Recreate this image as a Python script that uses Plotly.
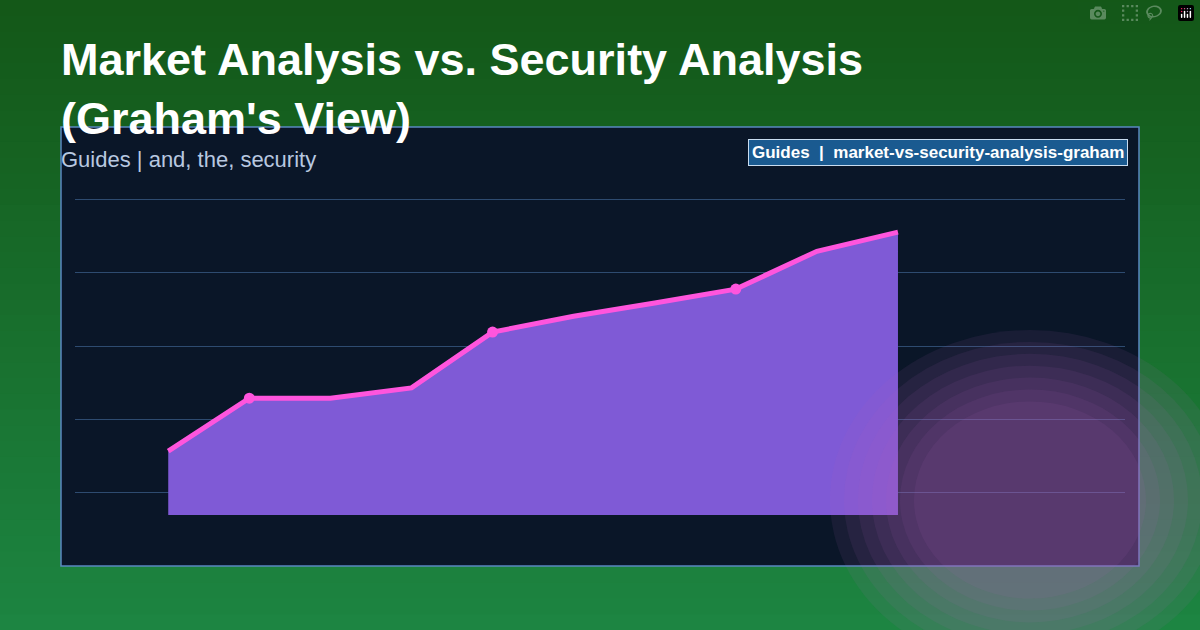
import plotly.graph_objects as go

steps = list(range(10))
values = [17.4, 31.8, 31.8, 34.6, 49.8, 54.1, 57.7, 61.5, 71.8, 77.0]
marker_steps = [1, 4, 7]
marker_values = [values[i] for i in marker_steps]

title = "Market Analysis vs. Security Analysis<br>(Graham's View)"
subtitle = "Guides | and, the, security"
badge = "Guides  |  market-vs-security-analysis-graham"

W, H = 1200, 630
L, R, T, B = 75, 75, 180, 90
pw, ph = W - L - R, H - T - B


def px(x):
    return (x - L) / pw


def py(y):
    return (H - B - y) / ph


shapes = []
# green background gradient
n = 40
for i in range(n):
    f = i / (n - 1)
    r = int(0x14 + (0x1d - 0x14) * f)
    g = int(0x58 + (0x85 - 0x58) * f)
    b = int(0x18 + (0x42 - 0x18) * f)
    shapes.append(dict(type="rect", xref="paper", yref="paper", layer="below",
                       x0=px(0), x1=px(W), y0=py(H * i / n), y1=py(H * (i + 1) / n + 1),
                       fillcolor=f"rgb({r},{g},{b})", line_width=0))
# panel
shapes.append(dict(type="rect", xref="paper", yref="paper", layer="below",
                   x0=px(61), x1=px(1139), y0=py(566), y1=py(127),
                   fillcolor="#0a1628", line=dict(color="#5a88c0", width=1.5)))
# glow
for k in range(7):
    rad = 200 - k * 14
    shapes.append(dict(type="circle", xref="paper", yref="paper", layer="above",
                       x0=px(1030 - rad * 1.0), x1=px(1030 + rad * 1.0),
                       y0=py(500 + rad * 0.85), y1=py(500 - rad * 0.85),
                       fillcolor="rgba(180,100,190,0.09)", line_width=0))

fig = go.Figure()
fig.add_trace(go.Scatter(x=steps, y=values, mode="lines", fill="tozeroy",
                         fillcolor="#7f5ad6", line=dict(color="#ff55dd", width=5),
                         hoverinfo="skip"))
fig.add_trace(go.Scatter(x=marker_steps, y=marker_values, mode="markers",
                         marker=dict(color="#ff55dd", size=11), hoverinfo="skip"))

fig.update_layout(
    width=W, height=H, showlegend=False,
    margin=dict(l=L, r=R, t=T, b=B),
    paper_bgcolor="#14581a", plot_bgcolor="rgba(0,0,0,0)",
    font=dict(family="Liberation Sans, Arial, sans-serif"),
    xaxis=dict(range=[-1.15, 11.8], showgrid=False, zeroline=False,
               showticklabels=False, fixedrange=True),
    yaxis=dict(range=[-6.8, 91.2], tick0=6, dtick=20, showgrid=True,
               gridcolor="rgba(90,140,200,0.45)", gridwidth=1, zeroline=False,
               showticklabels=False, fixedrange=True),
    shapes=shapes,
    annotations=[
        dict(text=f"<b>{title}</b>", xref="paper", yref="paper", x=px(59), y=py(32),
             xanchor="left", yanchor="top", align="left", showarrow=False,
             font=dict(size=45, color="white")),
        dict(text=subtitle, xref="paper", yref="paper", x=px(59), y=py(159),
             xanchor="left", yanchor="middle", showarrow=False,
             font=dict(size=22, color="#b8c8e0")),
        dict(text=f"<b>{badge}</b>", xref="paper", yref="paper", x=px(1128), y=py(152),
             xanchor="right", yanchor="middle", showarrow=False,
             font=dict(size=17, color="white"), bgcolor="#1a5a90",
             bordercolor="#c8dcf0", borderwidth=1, borderpad=3),
    ],
)

fig.write_html("out.html", post_script="document.body.style.margin='0';")
